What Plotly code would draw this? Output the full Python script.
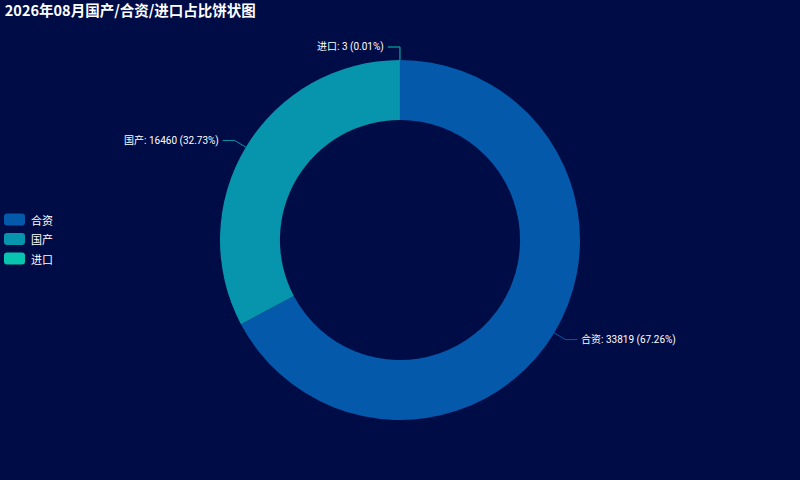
import math
import plotly.graph_objects as go

labels = ["合资", "国产", "进口"]
values = [33819, 16460, 3]
percents = ["67.26", "32.73", "0.01"]
colors = ["#0559ab", "#0795ad", "#08c5b0"]
title = "2026年08月国产/合资/进口占比饼状图"

W, H = 800, 480
bg = "#000c46"

# pie box in pixels
cx, cy, r_out = 400, 240, 180
hole = 0.667

fig = go.Figure(go.Pie(
    labels=labels, values=values, sort=False, direction="clockwise", rotation=0,
    hole=hole, marker=dict(colors=colors, line=dict(width=0)),
    textinfo="none", hoverinfo="label+value+percent", showlegend=False,
    domain=dict(x=[(cx - r_out) / W, (cx + r_out) / W],
                y=[(H - cy - r_out) / H, (H - cy + r_out) / H]),
))


def px2paper(x, y):
    return x / W, 1 - y / H


total = sum(values)
start = 0.0
shapes = []
annotations = []
lab_font = dict(color="#ffffff", size=10, family="Roboto, Noto Sans CJK SC, sans-serif")
for lab, v, pc, c in zip(labels, values, percents, colors):
    frac = v / total
    mid = (start + frac / 2) * 2 * math.pi
    start += frac
    sx, sy = math.sin(mid), -math.cos(mid)
    x0, y0 = cx + r_out * sx, cy + r_out * sy
    x1, y1 = cx + (r_out + 13) * sx, cy + (r_out + 13) * sy
    side = 1 if sx > 1e-6 else -1
    x2 = x1 + 12 * side
    p0, p1, p2 = px2paper(x0, y0), px2paper(x1, y1), px2paper(x2, y1)
    shapes.append(dict(type="path", xref="paper", yref="paper",
                       path=f"M {p0[0]},{p0[1]} L {p1[0]},{p1[1]} L {p2[0]},{p2[1]}",
                       line=dict(color=c, width=1)))
    tx, ty = px2paper(x2 + 1.5 * side, y1)
    annotations.append(dict(
        x=tx, y=ty, xref="paper", yref="paper", showarrow=False,
        text=f"{lab}: {v} ({pc}%)",
        xanchor="left" if side > 0 else "right", yanchor="middle", font=lab_font))

# legend drawn by hand: rounded swatches on the left, vertically centred
leg_top = 219.5
for i, (lab, c) in enumerate(zip(labels, colors)):
    yc = leg_top + 19.5 * i
    xa, ya = px2paper(4, yc - 6)
    xb, yb = px2paper(25, yc + 6)
    rx, ry = 3 / W, 3 / H
    path = (f"M {xa + rx},{ya} L {xb - rx},{ya} Q {xb},{ya} {xb},{ya - ry} "
            f"L {xb},{yb + ry} Q {xb},{yb} {xb - rx},{yb} L {xa + rx},{yb} "
            f"Q {xa},{yb} {xa},{yb + ry} L {xa},{ya - ry} Q {xa},{ya} {xa + rx},{ya} Z")
    shapes.append(dict(type="path", xref="paper", yref="paper", path=path,
                       fillcolor=c, line=dict(width=0)))
    tx, ty = px2paper(29, yc)
    annotations.append(dict(x=tx, y=ty, xref="paper", yref="paper", showarrow=False,
                            text=lab, xanchor="left", yanchor="middle",
                            font=dict(color="#ffffff", size=11)))

fig.update_layout(
    width=W, height=H,
    paper_bgcolor=bg, plot_bgcolor=bg,
    margin=dict(l=0, r=0, t=0, b=0),
    font=dict(family="Noto Sans CJK SC, Noto Sans, sans-serif", color="#ffffff"),
    title=dict(text=f"<b>{title}</b>", x=0.006, y=0.993, xanchor="left", yanchor="top",
               pad=dict(t=2), font=dict(size=14.5, color="#ffffff")),
    shapes=shapes,
    annotations=annotations,
)

fig.write_html("out.html", config={"displayModeBar": False},
               post_script="document.body.style.margin='0';")
